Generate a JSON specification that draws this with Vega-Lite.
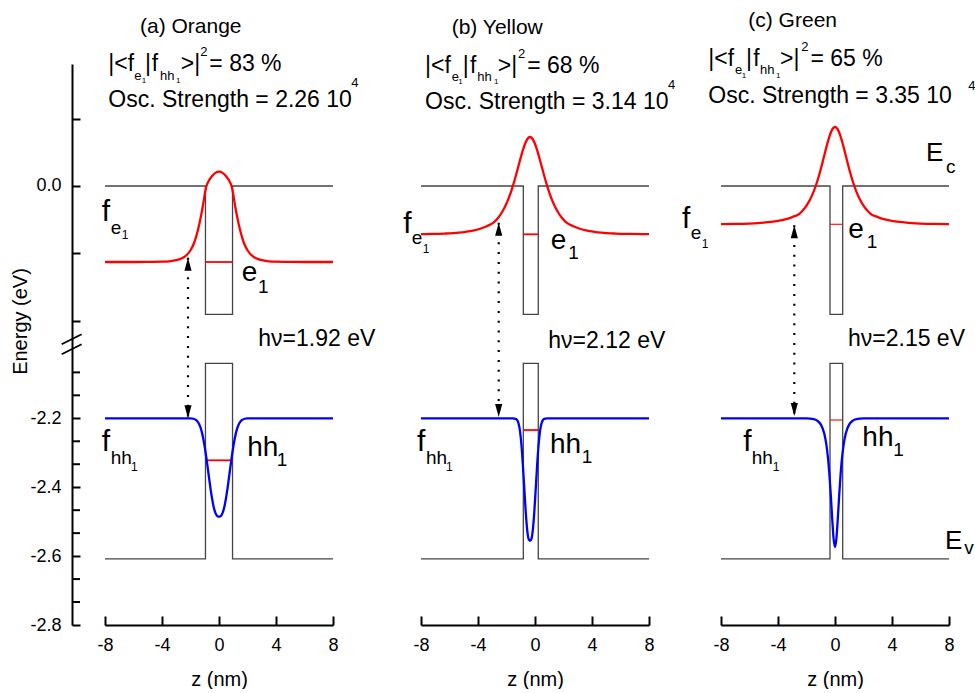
{
  "$schema": "https://vega.github.io/schema/vega-lite/v6.json",
  "background": "white",
  "padding": {"left": 10, "top": 9, "right": 0, "bottom": 0},
  "config": {
    "view": {"stroke": null},
    "font": "Liberation Sans",
    "axis": {"grid": false, "domainColor": "black", "tickColor": "black", "labelColor": "black", "titleColor": "black", "labelFont": "Liberation Sans", "titleFont": "Liberation Sans", "labelFontSize": 18, "titleFontSize": 20, "titleFontWeight": "normal", "domainWidth": 2, "tickWidth": 2, "labelFlush": false, "labelOverlap": false}
  },
  "datasets": {
    "bands": [
      {"panel": "a", "band": "cb", "i": 0, "z": -8, "E": 0}, {"panel": "a", "band": "cb", "i": 1, "z": -0.95, "E": 0}, {"panel": "a", "band": "cb", "i": 2, "z": -0.95, "E": -0.3807}, {"panel": "a", "band": "cb", "i": 3, "z": 0.95, "E": -0.3807}, {"panel": "a", "band": "cb", "i": 4, "z": 0.95, "E": 0}, {"panel": "a", "band": "cb", "i": 5, "z": 8, "E": 0},
      {"panel": "a", "band": "vb", "i": 0, "z": -8, "E": -2.608}, {"panel": "a", "band": "vb", "i": 1, "z": -0.95, "E": -2.608}, {"panel": "a", "band": "vb", "i": 2, "z": -0.95, "E": -2.0403}, {"panel": "a", "band": "vb", "i": 3, "z": 0.95, "E": -2.0403}, {"panel": "a", "band": "vb", "i": 4, "z": 0.95, "E": -2.608}, {"panel": "a", "band": "vb", "i": 5, "z": 8, "E": -2.608},
      {"panel": "b", "band": "cb", "i": 0, "z": -8, "E": 0}, {"panel": "b", "band": "cb", "i": 1, "z": -0.82, "E": 0}, {"panel": "b", "band": "cb", "i": 2, "z": -0.82, "E": -0.3807}, {"panel": "b", "band": "cb", "i": 3, "z": 0.23, "E": -0.3807}, {"panel": "b", "band": "cb", "i": 4, "z": 0.23, "E": 0}, {"panel": "b", "band": "cb", "i": 5, "z": 8, "E": 0},
      {"panel": "b", "band": "vb", "i": 0, "z": -8, "E": -2.608}, {"panel": "b", "band": "vb", "i": 1, "z": -0.82, "E": -2.608}, {"panel": "b", "band": "vb", "i": 2, "z": -0.82, "E": -2.0403}, {"panel": "b", "band": "vb", "i": 3, "z": 0.23, "E": -2.0403}, {"panel": "b", "band": "vb", "i": 4, "z": 0.23, "E": -2.608}, {"panel": "b", "band": "vb", "i": 5, "z": 8, "E": -2.608},
      {"panel": "c", "band": "cb", "i": 0, "z": -8, "E": 0}, {"panel": "c", "band": "cb", "i": 1, "z": -0.35, "E": 0}, {"panel": "c", "band": "cb", "i": 2, "z": -0.35, "E": -0.3807}, {"panel": "c", "band": "cb", "i": 3, "z": 0.54, "E": -0.3807}, {"panel": "c", "band": "cb", "i": 4, "z": 0.54, "E": 0}, {"panel": "c", "band": "cb", "i": 5, "z": 8, "E": 0},
      {"panel": "c", "band": "vb", "i": 0, "z": -8, "E": -2.608}, {"panel": "c", "band": "vb", "i": 1, "z": -0.35, "E": -2.608}, {"panel": "c", "band": "vb", "i": 2, "z": -0.35, "E": -2.0403}, {"panel": "c", "band": "vb", "i": 3, "z": 0.54, "E": -2.0403}, {"panel": "c", "band": "vb", "i": 4, "z": 0.54, "E": -2.608}, {"panel": "c", "band": "vb", "i": 5, "z": 8, "E": -2.608}
    ],
    "levels": [
      {"panel": "a", "level": "e1", "z1": -0.95, "z2": 0.95, "E": -0.2255}, {"panel": "a", "level": "hh1", "z1": -0.95, "z2": 0.95, "E": -2.3219},
      {"panel": "b", "level": "e1", "z1": -0.82, "z2": 0.23, "E": -0.1433}, {"panel": "b", "level": "hh1", "z1": -0.82, "z2": 0.23, "E": -2.234},
      {"panel": "c", "level": "e1", "z1": -0.35, "z2": 0.54, "E": -0.1136}, {"panel": "c", "level": "hh1", "z1": -0.35, "z2": 0.54, "E": -2.2049}
    ],
    "curves": [
      {"panel": "a", "state": "e1", "z": -8, "E": -0.2255}, {"panel": "a", "state": "e1", "z": -6, "E": -0.2255}, {"panel": "a", "state": "e1", "z": -5, "E": -0.2253}, {"panel": "a", "state": "e1", "z": -4, "E": -0.2247}, {"panel": "a", "state": "e1", "z": -3.5, "E": -0.2234}, {"panel": "a", "state": "e1", "z": -3, "E": -0.2201}, {"panel": "a", "state": "e1", "z": -2.75, "E": -0.2169}, {"panel": "a", "state": "e1", "z": -2.5, "E": -0.2121}, {"panel": "a", "state": "e1", "z": -2.25, "E": -0.2041}, {"panel": "a", "state": "e1", "z": -2, "E": -0.1907}, {"panel": "a", "state": "e1", "z": -1.75, "E": -0.1692}, {"panel": "a", "state": "e1", "z": -1.5, "E": -0.1344}, {"panel": "a", "state": "e1", "z": -1.25, "E": -0.0861}, {"panel": "a", "state": "e1", "z": -1.1, "E": -0.0513}, {"panel": "a", "state": "e1", "z": -1, "E": -0.0245}, {"panel": "a", "state": "e1", "z": -0.9, "E": -0.0031}, {"panel": "a", "state": "e1", "z": -0.75, "E": 0.013}, {"panel": "a", "state": "e1", "z": -0.5, "E": 0.0288}, {"panel": "a", "state": "e1", "z": -0.25, "E": 0.039}, {"panel": "a", "state": "e1", "z": 0, "E": 0.0424}, {"panel": "a", "state": "e1", "z": 0.25, "E": 0.039}, {"panel": "a", "state": "e1", "z": 0.5, "E": 0.0288}, {"panel": "a", "state": "e1", "z": 0.75, "E": 0.013}, {"panel": "a", "state": "e1", "z": 0.9, "E": -0.0031}, {"panel": "a", "state": "e1", "z": 1, "E": -0.0245}, {"panel": "a", "state": "e1", "z": 1.1, "E": -0.0513}, {"panel": "a", "state": "e1", "z": 1.25, "E": -0.0861}, {"panel": "a", "state": "e1", "z": 1.5, "E": -0.1344}, {"panel": "a", "state": "e1", "z": 1.75, "E": -0.1692}, {"panel": "a", "state": "e1", "z": 2, "E": -0.1907}, {"panel": "a", "state": "e1", "z": 2.25, "E": -0.2041}, {"panel": "a", "state": "e1", "z": 2.5, "E": -0.2121}, {"panel": "a", "state": "e1", "z": 2.75, "E": -0.2169}, {"panel": "a", "state": "e1", "z": 3, "E": -0.2201}, {"panel": "a", "state": "e1", "z": 3.5, "E": -0.2234}, {"panel": "a", "state": "e1", "z": 4, "E": -0.2247}, {"panel": "a", "state": "e1", "z": 5, "E": -0.2253}, {"panel": "a", "state": "e1", "z": 6, "E": -0.2255}, {"panel": "a", "state": "e1", "z": 8, "E": -0.2255},
      {"panel": "a", "state": "hh1", "z": -8, "E": -2.2}, {"panel": "a", "state": "hh1", "z": -4, "E": -2.2}, {"panel": "a", "state": "hh1", "z": -3, "E": -2.2}, {"panel": "a", "state": "hh1", "z": -2.5, "E": -2.2}, {"panel": "a", "state": "hh1", "z": -2, "E": -2.2003}, {"panel": "a", "state": "hh1", "z": -1.8, "E": -2.2013}, {"panel": "a", "state": "hh1", "z": -1.6, "E": -2.2053}, {"panel": "a", "state": "hh1", "z": -1.5, "E": -2.2096}, {"panel": "a", "state": "hh1", "z": -1.4, "E": -2.2164}, {"panel": "a", "state": "hh1", "z": -1.3, "E": -2.2266}, {"panel": "a", "state": "hh1", "z": -1.2, "E": -2.2408}, {"panel": "a", "state": "hh1", "z": -1.1, "E": -2.26}, {"panel": "a", "state": "hh1", "z": -1, "E": -2.2834}, {"panel": "a", "state": "hh1", "z": -0.9, "E": -2.3108}, {"panel": "a", "state": "hh1", "z": -0.8, "E": -2.3411}, {"panel": "a", "state": "hh1", "z": -0.7, "E": -2.3722}, {"panel": "a", "state": "hh1", "z": -0.6, "E": -2.4025}, {"panel": "a", "state": "hh1", "z": -0.5, "E": -2.4296}, {"panel": "a", "state": "hh1", "z": -0.4, "E": -2.4522}, {"panel": "a", "state": "hh1", "z": -0.3, "E": -2.4688}, {"panel": "a", "state": "hh1", "z": -0.2, "E": -2.4793}, {"panel": "a", "state": "hh1", "z": -0.1, "E": -2.4845}, {"panel": "a", "state": "hh1", "z": 0, "E": -2.4856}, {"panel": "a", "state": "hh1", "z": 0.1, "E": -2.4845}, {"panel": "a", "state": "hh1", "z": 0.2, "E": -2.4793}, {"panel": "a", "state": "hh1", "z": 0.3, "E": -2.4688}, {"panel": "a", "state": "hh1", "z": 0.4, "E": -2.4522}, {"panel": "a", "state": "hh1", "z": 0.5, "E": -2.4296}, {"panel": "a", "state": "hh1", "z": 0.6, "E": -2.4025}, {"panel": "a", "state": "hh1", "z": 0.7, "E": -2.3722}, {"panel": "a", "state": "hh1", "z": 0.8, "E": -2.3411}, {"panel": "a", "state": "hh1", "z": 0.9, "E": -2.3108}, {"panel": "a", "state": "hh1", "z": 1, "E": -2.2834}, {"panel": "a", "state": "hh1", "z": 1.1, "E": -2.26}, {"panel": "a", "state": "hh1", "z": 1.2, "E": -2.2408}, {"panel": "a", "state": "hh1", "z": 1.3, "E": -2.2266}, {"panel": "a", "state": "hh1", "z": 1.4, "E": -2.2164}, {"panel": "a", "state": "hh1", "z": 1.5, "E": -2.2096}, {"panel": "a", "state": "hh1", "z": 1.6, "E": -2.2053}, {"panel": "a", "state": "hh1", "z": 1.8, "E": -2.2013}, {"panel": "a", "state": "hh1", "z": 2, "E": -2.2003}, {"panel": "a", "state": "hh1", "z": 2.5, "E": -2.2}, {"panel": "a", "state": "hh1", "z": 3, "E": -2.2}, {"panel": "a", "state": "hh1", "z": 4, "E": -2.2}, {"panel": "a", "state": "hh1", "z": 8, "E": -2.2},
      {"panel": "b", "state": "e1", "z": -8, "E": -0.1427}, {"panel": "b", "state": "e1", "z": -7.35, "E": -0.1423}, {"panel": "b", "state": "e1", "z": -6.35, "E": -0.1411}, {"panel": "b", "state": "e1", "z": -5.35, "E": -0.1384}, {"panel": "b", "state": "e1", "z": -4.85, "E": -0.1358}, {"panel": "b", "state": "e1", "z": -4.35, "E": -0.1323}, {"panel": "b", "state": "e1", "z": -3.85, "E": -0.1268}, {"panel": "b", "state": "e1", "z": -3.35, "E": -0.1188}, {"panel": "b", "state": "e1", "z": -2.85, "E": -0.1066}, {"panel": "b", "state": "e1", "z": -2.6, "E": -0.0951}, {"panel": "b", "state": "e1", "z": -2.35, "E": -0.0801}, {"panel": "b", "state": "e1", "z": -2.1, "E": -0.0607}, {"panel": "b", "state": "e1", "z": -1.85, "E": -0.0365}, {"panel": "b", "state": "e1", "z": -1.6, "E": -0.0062}, {"panel": "b", "state": "e1", "z": -1.35, "E": 0.0296}, {"panel": "b", "state": "e1", "z": -1.1, "E": 0.0689}, {"panel": "b", "state": "e1", "z": -0.85, "E": 0.1067}, {"panel": "b", "state": "e1", "z": -0.6, "E": 0.1347}, {"panel": "b", "state": "e1", "z": -0.35, "E": 0.1454}, {"panel": "b", "state": "e1", "z": -0.1, "E": 0.1347}, {"panel": "b", "state": "e1", "z": 0.15, "E": 0.1067}, {"panel": "b", "state": "e1", "z": 0.4, "E": 0.0689}, {"panel": "b", "state": "e1", "z": 0.65, "E": 0.0296}, {"panel": "b", "state": "e1", "z": 0.9, "E": -0.0062}, {"panel": "b", "state": "e1", "z": 1.15, "E": -0.0365}, {"panel": "b", "state": "e1", "z": 1.4, "E": -0.0607}, {"panel": "b", "state": "e1", "z": 1.65, "E": -0.0801}, {"panel": "b", "state": "e1", "z": 1.9, "E": -0.0951}, {"panel": "b", "state": "e1", "z": 2.15, "E": -0.1066}, {"panel": "b", "state": "e1", "z": 2.65, "E": -0.1188}, {"panel": "b", "state": "e1", "z": 3.15, "E": -0.1268}, {"panel": "b", "state": "e1", "z": 3.65, "E": -0.1323}, {"panel": "b", "state": "e1", "z": 4.15, "E": -0.1358}, {"panel": "b", "state": "e1", "z": 4.65, "E": -0.1384}, {"panel": "b", "state": "e1", "z": 5.65, "E": -0.1411}, {"panel": "b", "state": "e1", "z": 6.65, "E": -0.1423}, {"panel": "b", "state": "e1", "z": 8, "E": -0.1429},
      {"panel": "b", "state": "hh1", "z": -8, "E": -2.2}, {"panel": "b", "state": "hh1", "z": -4, "E": -2.2}, {"panel": "b", "state": "hh1", "z": -2.35, "E": -2.2}, {"panel": "b", "state": "hh1", "z": -1.55, "E": -2.2}, {"panel": "b", "state": "hh1", "z": -1.35, "E": -2.2015}, {"panel": "b", "state": "hh1", "z": -1.25, "E": -2.2054}, {"panel": "b", "state": "hh1", "z": -1.15, "E": -2.2157}, {"panel": "b", "state": "hh1", "z": -1.05, "E": -2.2381}, {"panel": "b", "state": "hh1", "z": -0.95, "E": -2.278}, {"panel": "b", "state": "hh1", "z": -0.85, "E": -2.336}, {"panel": "b", "state": "hh1", "z": -0.75, "E": -2.4051}, {"panel": "b", "state": "hh1", "z": -0.65, "E": -2.4723}, {"panel": "b", "state": "hh1", "z": -0.55, "E": -2.5229}, {"panel": "b", "state": "hh1", "z": -0.45, "E": -2.55}, {"panel": "b", "state": "hh1", "z": -0.35, "E": -2.556}, {"panel": "b", "state": "hh1", "z": -0.25, "E": -2.55}, {"panel": "b", "state": "hh1", "z": -0.15, "E": -2.5229}, {"panel": "b", "state": "hh1", "z": -0.05, "E": -2.4723}, {"panel": "b", "state": "hh1", "z": 0.05, "E": -2.4051}, {"panel": "b", "state": "hh1", "z": 0.15, "E": -2.336}, {"panel": "b", "state": "hh1", "z": 0.25, "E": -2.278}, {"panel": "b", "state": "hh1", "z": 0.35, "E": -2.2381}, {"panel": "b", "state": "hh1", "z": 0.45, "E": -2.2157}, {"panel": "b", "state": "hh1", "z": 0.55, "E": -2.2054}, {"panel": "b", "state": "hh1", "z": 0.65, "E": -2.2015}, {"panel": "b", "state": "hh1", "z": 0.85, "E": -2.2}, {"panel": "b", "state": "hh1", "z": 1.65, "E": -2.2}, {"panel": "b", "state": "hh1", "z": 4, "E": -2.2}, {"panel": "b", "state": "hh1", "z": 8, "E": -2.2},
      {"panel": "c", "state": "e1", "z": -8, "E": -0.1131}, {"panel": "c", "state": "e1", "z": -7, "E": -0.1126}, {"panel": "c", "state": "e1", "z": -6, "E": -0.1114}, {"panel": "c", "state": "e1", "z": -5, "E": -0.1089}, {"panel": "c", "state": "e1", "z": -4.5, "E": -0.1067}, {"panel": "c", "state": "e1", "z": -4, "E": -0.1036}, {"panel": "c", "state": "e1", "z": -3.5, "E": -0.099}, {"panel": "c", "state": "e1", "z": -3, "E": -0.0922}, {"panel": "c", "state": "e1", "z": -2.5, "E": -0.0827}, {"panel": "c", "state": "e1", "z": -2.25, "E": -0.0723}, {"panel": "c", "state": "e1", "z": -2, "E": -0.0585}, {"panel": "c", "state": "e1", "z": -1.75, "E": -0.0403}, {"panel": "c", "state": "e1", "z": -1.5, "E": -0.0166}, {"panel": "c", "state": "e1", "z": -1.25, "E": 0.0134}, {"panel": "c", "state": "e1", "z": -1, "E": 0.0498}, {"panel": "c", "state": "e1", "z": -0.75, "E": 0.0911}, {"panel": "c", "state": "e1", "z": -0.5, "E": 0.1318}, {"panel": "c", "state": "e1", "z": -0.25, "E": 0.1633}, {"panel": "c", "state": "e1", "z": 0, "E": 0.1751}, {"panel": "c", "state": "e1", "z": 0.25, "E": 0.1633}, {"panel": "c", "state": "e1", "z": 0.5, "E": 0.1318}, {"panel": "c", "state": "e1", "z": 0.75, "E": 0.0911}, {"panel": "c", "state": "e1", "z": 1, "E": 0.0498}, {"panel": "c", "state": "e1", "z": 1.25, "E": 0.0134}, {"panel": "c", "state": "e1", "z": 1.5, "E": -0.0166}, {"panel": "c", "state": "e1", "z": 1.75, "E": -0.0403}, {"panel": "c", "state": "e1", "z": 2, "E": -0.0585}, {"panel": "c", "state": "e1", "z": 2.25, "E": -0.0723}, {"panel": "c", "state": "e1", "z": 2.5, "E": -0.0827}, {"panel": "c", "state": "e1", "z": 3, "E": -0.0922}, {"panel": "c", "state": "e1", "z": 3.5, "E": -0.099}, {"panel": "c", "state": "e1", "z": 4, "E": -0.1036}, {"panel": "c", "state": "e1", "z": 4.5, "E": -0.1067}, {"panel": "c", "state": "e1", "z": 5, "E": -0.1089}, {"panel": "c", "state": "e1", "z": 6, "E": -0.1114}, {"panel": "c", "state": "e1", "z": 7, "E": -0.1126}, {"panel": "c", "state": "e1", "z": 8, "E": -0.1131},
      {"panel": "c", "state": "hh1", "z": -8, "E": -2.2}, {"panel": "c", "state": "hh1", "z": -4, "E": -2.2}, {"panel": "c", "state": "hh1", "z": -3, "E": -2.2}, {"panel": "c", "state": "hh1", "z": -2, "E": -2.2004}, {"panel": "c", "state": "hh1", "z": -1.5, "E": -2.2027}, {"panel": "c", "state": "hh1", "z": -1.25, "E": -2.2069}, {"panel": "c", "state": "hh1", "z": -1, "E": -2.2176}, {"panel": "c", "state": "hh1", "z": -0.75, "E": -2.2448}, {"panel": "c", "state": "hh1", "z": -0.6, "E": -2.2781}, {"panel": "c", "state": "hh1", "z": -0.5, "E": -2.3121}, {"panel": "c", "state": "hh1", "z": -0.4, "E": -2.3592}, {"panel": "c", "state": "hh1", "z": -0.3, "E": -2.4197}, {"panel": "c", "state": "hh1", "z": -0.2, "E": -2.4888}, {"panel": "c", "state": "hh1", "z": -0.1, "E": -2.5489}, {"panel": "c", "state": "hh1", "z": 0, "E": -2.5736}, {"panel": "c", "state": "hh1", "z": 0.1, "E": -2.5489}, {"panel": "c", "state": "hh1", "z": 0.2, "E": -2.4888}, {"panel": "c", "state": "hh1", "z": 0.3, "E": -2.4197}, {"panel": "c", "state": "hh1", "z": 0.4, "E": -2.3592}, {"panel": "c", "state": "hh1", "z": 0.5, "E": -2.3121}, {"panel": "c", "state": "hh1", "z": 0.6, "E": -2.2781}, {"panel": "c", "state": "hh1", "z": 0.75, "E": -2.2448}, {"panel": "c", "state": "hh1", "z": 1, "E": -2.2176}, {"panel": "c", "state": "hh1", "z": 1.25, "E": -2.2069}, {"panel": "c", "state": "hh1", "z": 1.5, "E": -2.2027}, {"panel": "c", "state": "hh1", "z": 2, "E": -2.2004}, {"panel": "c", "state": "hh1", "z": 3, "E": -2.2}, {"panel": "c", "state": "hh1", "z": 4, "E": -2.2}, {"panel": "c", "state": "hh1", "z": 8, "E": -2.2}
    ],
    "arrows": [
      {"panel": "a", "z": -2.175, "top": -0.2128, "bot": -2.2},
      {"panel": "b", "z": -2.547, "top": -0.1089, "bot": -2.1962},
      {"panel": "c", "z": -2.856, "top": -0.1166, "bot": -2.1933}
    ],
    "breaks": [
      {"panel": "a", "z1": -11.04, "z2": -9.64, "E1": -1.9852, "E2": -0.44},
      {"panel": "a", "z1": -11.04, "z2": -9.64, "E1": -2.0142, "E2": -1.9852}
    ],
    "minorticks": [
      {"panel": "a", "z1": -10.316, "z2": -9.754, "E": -2.0667}, {"panel": "a", "z1": -10.316, "z2": -9.754, "E": -2.1333},
      {"panel": "a", "z1": -10.316, "z2": -9.754, "E": -2.2667}, {"panel": "a", "z1": -10.316, "z2": -9.754, "E": -2.3333},
      {"panel": "a", "z1": -10.316, "z2": -9.754, "E": -2.4667}, {"panel": "a", "z1": -10.316, "z2": -9.754, "E": -2.5333},
      {"panel": "a", "z1": -10.316, "z2": -9.754, "E": -2.6667}, {"panel": "a", "z1": -10.316, "z2": -9.754, "E": -2.7333}
    ],
    "texts": [
      {"panel": "a", "role": "title", "z": -5.544, "E": 0.4549, "text": "(a) Orange"},
      {"panel": "a", "role": "formula", "z": -7.768, "E": 0.3412, "text": "|<f"},
      {"panel": "a", "role": "fsub", "z": -5.944, "E": 0.316, "text": "e"},
      {"panel": "a", "role": "fsubsub", "z": -5.425, "E": 0.3065, "text": "1"},
      {"panel": "a", "role": "formula", "z": -5.193, "E": 0.3412, "text": "|"},
      {"panel": "a", "role": "formula", "z": -4.723, "E": 0.3412, "text": "f"},
      {"panel": "a", "role": "fsub", "z": -4.14, "E": 0.316, "text": "hh"},
      {"panel": "a", "role": "fsubsub", "z": -3.018, "E": 0.3065, "text": "1"},
      {"panel": "a", "role": "formula", "z": -2.688, "E": 0.3412, "text": ">|"},
      {"panel": "a", "role": "fsub", "z": -1.32, "E": 0.3858, "text": "2"},
      {"panel": "a", "role": "formula", "z": -0.68, "E": 0.3412, "text": "= 83 %"},
      {"panel": "a", "role": "formula", "z": -7.768, "E": 0.2344, "text": "Osc. Strength = 2.26 10"},
      {"panel": "a", "role": "fsub", "z": 9.284, "E": 0.2938, "text": "4"},
      {"panel": "a", "role": "sym", "z": -8.232, "E": -0.1039, "text": "f"},
      {"panel": "a", "role": "symsub", "z": -7.6, "E": -0.1424, "text": "e"},
      {"panel": "a", "role": "idx", "z": -6.828, "E": -0.1573, "text": "1"},
      {"panel": "a", "role": "lvl", "z": 1.593, "E": -0.2819, "text": "e"},
      {"panel": "a", "role": "lvlidx", "z": 2.737, "E": -0.3166, "text": "1"},
      {"panel": "a", "role": "lvl", "z": 1.986, "E": -2.3094, "text": "hh"},
      {"panel": "a", "role": "lvlidx", "z": 4.049, "E": -2.3385, "text": "1"},
      {"panel": "a", "role": "formula", "z": 2.758, "E": -1.9901, "text": "hν=1.92 eV"},
      {"panel": "a", "role": "sym", "z": -8.232, "E": -2.2949, "text": "f"},
      {"panel": "a", "role": "symsub", "z": -7.6, "E": -2.3335, "text": "hh"},
      {"panel": "a", "role": "idx", "z": -6.175, "E": -2.353, "text": "1"},
      {"panel": "b", "role": "title", "z": -5.846, "E": 0.4501, "text": "(b) Yellow"},
      {"panel": "b", "role": "formula", "z": -7.719, "E": 0.3362, "text": "|<f"},
      {"panel": "b", "role": "fsub", "z": -5.846, "E": 0.311, "text": "e"},
      {"panel": "b", "role": "fsubsub", "z": -5.382, "E": 0.3015, "text": "1"},
      {"panel": "b", "role": "formula", "z": -5.074, "E": 0.3362, "text": "|"},
      {"panel": "b", "role": "formula", "z": -4.561, "E": 0.3362, "text": "f"},
      {"panel": "b", "role": "fsub", "z": -4.049, "E": 0.311, "text": "hh"},
      {"panel": "b", "role": "fsubsub", "z": -2.877, "E": 0.3015, "text": "1"},
      {"panel": "b", "role": "formula", "z": -2.618, "E": 0.3362, "text": ">|"},
      {"panel": "b", "role": "fsub", "z": -1.2, "E": 0.3807, "text": "2"},
      {"panel": "b", "role": "formula", "z": -0.55, "E": 0.3362, "text": "= 68 %"},
      {"panel": "b", "role": "formula", "z": -7.719, "E": 0.2276, "text": "Osc. Strength = 3.14 10"},
      {"panel": "b", "role": "fsub", "z": 9.333, "E": 0.2869, "text": "4"},
      {"panel": "b", "role": "sym", "z": -9.242, "E": -0.1386, "text": "f"},
      {"panel": "b", "role": "symsub", "z": -8.653, "E": -0.173, "text": "e"},
      {"panel": "b", "role": "idx", "z": -7.881, "E": -0.1979, "text": "1"},
      {"panel": "b", "role": "lvl", "z": 1.102, "E": -0.1878, "text": "e"},
      {"panel": "b", "role": "lvlidx", "z": 2.337, "E": -0.2175, "text": "1"},
      {"panel": "b", "role": "lvl", "z": 1.053, "E": -2.2999, "text": "hh"},
      {"panel": "b", "role": "lvlidx", "z": 3.277, "E": -2.3289, "text": "1"},
      {"panel": "b", "role": "formula", "z": 0.933, "E": -1.9951, "text": "hν=2.12 eV"},
      {"panel": "b", "role": "sym", "z": -8.281, "E": -2.2949, "text": "f"},
      {"panel": "b", "role": "symsub", "z": -7.649, "E": -2.3335, "text": "hh"},
      {"panel": "b", "role": "idx", "z": -6.246, "E": -2.353, "text": "1"},
      {"panel": "c", "role": "title", "z": -6.084, "E": 0.4718, "text": "(c) Green"},
      {"panel": "c", "role": "formula", "z": -8.891, "E": 0.3561, "text": "|<f"},
      {"panel": "c", "role": "fsub", "z": -7.018, "E": 0.3309, "text": "e"},
      {"panel": "c", "role": "fsubsub", "z": -6.547, "E": 0.3214, "text": "1"},
      {"panel": "c", "role": "formula", "z": -6.246, "E": 0.3561, "text": "|"},
      {"panel": "c", "role": "formula", "z": -5.733, "E": 0.3561, "text": "f"},
      {"panel": "c", "role": "fsub", "z": -5.263, "E": 0.3309, "text": "hh"},
      {"panel": "c", "role": "fsubsub", "z": -4.14, "E": 0.3214, "text": "1"},
      {"panel": "c", "role": "formula", "z": -3.86, "E": 0.3561, "text": ">|"},
      {"panel": "c", "role": "fsub", "z": -2.37, "E": 0.4006, "text": "2"},
      {"panel": "c", "role": "formula", "z": -1.72, "E": 0.3561, "text": "= 65 %"},
      {"panel": "c", "role": "formula", "z": -8.891, "E": 0.2472, "text": "Osc. Strength = 3.35 10"},
      {"panel": "c", "role": "fsub", "z": 9.354, "E": 0.284, "text": "4"},
      {"panel": "c", "role": "sym", "z": -10.737, "E": -0.1237, "text": "f"},
      {"panel": "c", "role": "symsub", "z": -10.126, "E": -0.1582, "text": "e"},
      {"panel": "c", "role": "idx", "z": -9.354, "E": -0.1831, "text": "1"},
      {"panel": "c", "role": "lvl", "z": 0.933, "E": -0.1534, "text": "e"},
      {"panel": "c", "role": "lvlidx", "z": 2.225, "E": -0.1831, "text": "1"},
      {"panel": "c", "role": "sym", "z": -6.435, "E": -2.2949, "text": "f"},
      {"panel": "c", "role": "symsub", "z": -5.846, "E": -2.3335, "text": "hh"},
      {"panel": "c", "role": "idx", "z": -4.372, "E": -2.353, "text": "1"},
      {"panel": "c", "role": "lvl", "z": 1.916, "E": -2.2804, "text": "hh"},
      {"panel": "c", "role": "lvlidx", "z": 4.091, "E": -2.3094, "text": "1"},
      {"panel": "c", "role": "band", "z": 6.386, "E": 0.0742, "text": "E"},
      {"panel": "c", "role": "bandsub", "z": 7.789, "E": 0.0395, "text": "c"},
      {"panel": "c", "role": "band", "z": 7.719, "E": -2.5803, "text": "E"},
      {"panel": "c", "role": "bandsub", "z": 9.074, "E": -2.5948, "text": "v"},
      {"panel": "c", "role": "formula", "z": 0.912, "E": -1.9901, "text": "hν=2.15 eV"}
    ]
  },
  "spacing": 72,
  "bounds": "flush",
  "hconcat": [
    {
      "width": 228, "height": 561,
      "layer": [
        {
          "data": {"name": "bands"}, "transform": [{"filter": "datum.panel === 'a'"}],
          "mark": {"type": "line", "color": "#444444", "strokeWidth": 1.3},
          "encoding": {
            "x": {"field": "z", "type": "quantitative", "scale": {"domain": [-8, 8], "nice": false, "zero": false},
                  "axis": {"title": "z (nm)", "values": [-8, -6, -4, -2, 0, 2, 4, 6, 8], "labelExpr": "datum.value % 4 === 0 ? replace(format(datum.value, 'd'), '\u2212', '-') : ''", "tickSize": {"condition": {"test": "datum.value % 4 === 0", "value": -9}, "value": -5}, "labelPadding": 20, "labelOverlap": false, "titleY": 60, "titleBaseline": "alphabetic"}},
            "y": {"field": "E", "type": "quantitative", "scale": {"domain": [-2.8, -1.9785, -0.4629, 0.362], "range": [561, 278, 278, 0], "nice": false, "zero": false},
                  "axis": {"title": "Energy (eV)", "offset": 33, "values": [0.2, 0, -0.2, -0.4, -2.2, -2.4, -2.6, -2.8], "labelExpr": "datum.value > 0.1 || (datum.value < -0.1 && datum.value > -1) ? '' : replace(format(datum.value, '.1f'), '\u2212', '-')", "tickSize": -8, "labelPadding": 19, "labelOverlap": false, "titleAngle": 270, "titleAlign": "center", "titleBaseline": "middle", "titleX": -52, "titleY": 257}},
            "detail": {"field": "band"},
            "order": {"field": "i"}
          }
        },
        {
          "data": {"name": "minorticks"}, "transform": [{"filter": "datum.panel === 'a'"}],
          "mark": {"type": "rule", "color": "black", "strokeWidth": 2},
          "encoding": {
            "x": {"field": "z1", "type": "quantitative", "scale": {"domain": [-8, 8], "nice": false, "zero": false}},
            "x2": {"field": "z2"},
            "y": {"field": "E", "type": "quantitative", "scale": {"domain": [-2.8, -1.9785, -0.4629, 0.362], "range": [561, 278, 278, 0], "nice": false, "zero": false}}
          }
        },
        {
          "data": {"name": "levels"}, "transform": [{"filter": "datum.panel === 'a'"}],
          "mark": {"type": "rule", "color": "#ff0000", "strokeWidth": 1.8},
          "encoding": {
            "x": {"field": "z1", "type": "quantitative", "scale": {"domain": [-8, 8], "nice": false, "zero": false}},
            "x2": {"field": "z2"},
            "y": {"field": "E", "type": "quantitative", "scale": {"domain": [-2.8, -1.9785, -0.4629, 0.362], "range": [561, 278, 278, 0], "nice": false, "zero": false}}
          }
        },
        {
          "data": {"name": "curves"}, "transform": [{"filter": "datum.panel === 'a'"}],
          "mark": {"type": "line", "interpolate": "monotone", "strokeWidth": 2.3},
          "encoding": {
            "x": {"field": "z", "type": "quantitative", "scale": {"domain": [-8, 8], "nice": false, "zero": false}},
            "y": {"field": "E", "type": "quantitative", "scale": {"domain": [-2.8, -1.9785, -0.4629, 0.362], "range": [561, 278, 278, 0], "nice": false, "zero": false}},
            "color": {"field": "state", "type": "nominal", "scale": {"domain": ["e1", "hh1"], "range": ["#ff0000", "#0000ff"]}, "legend": null}
          }
        },
        {
          "data": {"name": "arrows"}, "transform": [{"filter": "datum.panel === 'a'"}],
          "mark": {"type": "rule", "color": "black", "strokeWidth": 2.2, "strokeDash": [2, 7.8]},
          "encoding": {
            "x": {"field": "z", "type": "quantitative", "scale": {"domain": [-8, 8], "nice": false, "zero": false}},
            "y": {"field": "top", "type": "quantitative", "scale": {"domain": [-2.8, -1.9785, -0.4629, 0.362], "range": [561, 278, 278, 0], "nice": false, "zero": false}},
            "y2": {"field": "bot"}
          }
        },
        {
          "data": {"name": "arrows"}, "transform": [{"filter": "datum.panel === 'a'"}],
          "mark": {"type": "point", "shape": "M0,0L-0.55,2L0.55,2Z", "filled": true, "size": 170, "color": "black", "opacity": 1, "strokeWidth": 0},
          "encoding": {
            "x": {"field": "z", "type": "quantitative", "scale": {"domain": [-8, 8], "nice": false, "zero": false}},
            "y": {"field": "top", "type": "quantitative", "scale": {"domain": [-2.8, -1.9785, -0.4629, 0.362], "range": [561, 278, 278, 0], "nice": false, "zero": false}}
          }
        },
        {
          "data": {"name": "arrows"}, "transform": [{"filter": "datum.panel === 'a'"}],
          "mark": {"type": "point", "shape": "M0,0L-0.55,-2L0.55,-2Z", "filled": true, "size": 170, "color": "black", "opacity": 1, "strokeWidth": 0},
          "encoding": {
            "x": {"field": "z", "type": "quantitative", "scale": {"domain": [-8, 8], "nice": false, "zero": false}},
            "y": {"field": "bot", "type": "quantitative", "scale": {"domain": [-2.8, -1.9785, -0.4629, 0.362], "range": [561, 278, 278, 0], "nice": false, "zero": false}}
          }
        },
        {
          "data": {"name": "breaks"}, "transform": [{"filter": "datum.panel === 'a'"}],
          "mark": {"type": "rule", "color": "black", "strokeWidth": 1.8},
          "encoding": {
            "x": {"field": "z1", "type": "quantitative", "scale": {"domain": [-8, 8], "nice": false, "zero": false}},
            "x2": {"field": "z2"},
            "y": {"field": "E1", "type": "quantitative", "scale": {"domain": [-2.8, -1.9785, -0.4629, 0.362], "range": [561, 278, 278, 0], "nice": false, "zero": false}},
            "y2": {"field": "E2"}
          }
        },
        {
          "data": {"name": "texts"}, "transform": [{"filter": "datum.panel === 'a'"}],
          "mark": {"type": "text", "align": "left", "baseline": "alphabetic", "font": "Liberation Sans", "color": "black"},
          "encoding": {
            "x": {"field": "z", "type": "quantitative", "scale": {"domain": [-8, 8], "nice": false, "zero": false}},
            "y": {"field": "E", "type": "quantitative", "scale": {"domain": [-2.8, -1.9785, -0.4629, 0.362], "range": [561, 278, 278, 0], "nice": false, "zero": false}},
            "text": {"field": "text"},
            "size": {"field": "role", "type": "nominal", "scale": {"type": "ordinal", "domain": ["title", "formula", "fsub", "fsubsub", "sym", "symsub", "idx", "lvl", "lvlidx", "band", "bandsub"], "range": [21, 23, 13, 8, 30, 19, 12, 28, 19, 26, 19]}, "legend": null}
          }
        }
      ]
    },
    {
      "width": 244, "height": 561,
      "layer": [
        {
          "data": {"name": "bands"}, "transform": [{"filter": "datum.panel === 'b'"}],
          "mark": {"type": "line", "color": "#444444", "strokeWidth": 1.3},
          "encoding": {
            "x": {"field": "z", "type": "quantitative", "scale": {"domain": [-8, 8], "range": [16, 244], "nice": false, "zero": false},
                  "axis": {"title": "z (nm)", "values": [-8, -6, -4, -2, 0, 2, 4, 6, 8], "labelExpr": "datum.value % 4 === 0 ? replace(format(datum.value, 'd'), '\u2212', '-') : ''", "tickSize": {"condition": {"test": "datum.value % 4 === 0", "value": -9}, "value": -5}, "labelPadding": 20, "labelOverlap": false, "titleX": 130, "titleY": 60, "titleBaseline": "alphabetic"}},
            "y": {"field": "E", "type": "quantitative", "scale": {"domain": [-2.8, -1.9785, -0.4629, 0.362], "range": [561, 278, 278, 0], "nice": false, "zero": false}, "axis": null},
            "detail": {"field": "band"},
            "order": {"field": "i"}
          }
        },
        {
          "data": {"name": "levels"}, "transform": [{"filter": "datum.panel === 'b'"}],
          "mark": {"type": "rule", "color": "#ff0000", "strokeWidth": 1.8},
          "encoding": {
            "x": {"field": "z1", "type": "quantitative", "scale": {"domain": [-8, 8], "range": [16, 244], "nice": false, "zero": false}},
            "x2": {"field": "z2"},
            "y": {"field": "E", "type": "quantitative", "scale": {"domain": [-2.8, -1.9785, -0.4629, 0.362], "range": [561, 278, 278, 0], "nice": false, "zero": false}, "axis": null}
          }
        },
        {
          "data": {"name": "curves"}, "transform": [{"filter": "datum.panel === 'b'"}],
          "mark": {"type": "line", "interpolate": "monotone", "strokeWidth": 2.3},
          "encoding": {
            "x": {"field": "z", "type": "quantitative", "scale": {"domain": [-8, 8], "range": [16, 244], "nice": false, "zero": false}},
            "y": {"field": "E", "type": "quantitative", "scale": {"domain": [-2.8, -1.9785, -0.4629, 0.362], "range": [561, 278, 278, 0], "nice": false, "zero": false}, "axis": null},
            "color": {"field": "state", "type": "nominal", "scale": {"domain": ["e1", "hh1"], "range": ["#ff0000", "#0000ff"]}, "legend": null}
          }
        },
        {
          "data": {"name": "arrows"}, "transform": [{"filter": "datum.panel === 'b'"}],
          "mark": {"type": "rule", "color": "black", "strokeWidth": 2.2, "strokeDash": [2, 7.8]},
          "encoding": {
            "x": {"field": "z", "type": "quantitative", "scale": {"domain": [-8, 8], "range": [16, 244], "nice": false, "zero": false}},
            "y": {"field": "top", "type": "quantitative", "scale": {"domain": [-2.8, -1.9785, -0.4629, 0.362], "range": [561, 278, 278, 0], "nice": false, "zero": false}, "axis": null},
            "y2": {"field": "bot"}
          }
        },
        {
          "data": {"name": "arrows"}, "transform": [{"filter": "datum.panel === 'b'"}],
          "mark": {"type": "point", "shape": "M0,0L-0.55,2L0.55,2Z", "filled": true, "size": 170, "color": "black", "opacity": 1, "strokeWidth": 0},
          "encoding": {
            "x": {"field": "z", "type": "quantitative", "scale": {"domain": [-8, 8], "range": [16, 244], "nice": false, "zero": false}},
            "y": {"field": "top", "type": "quantitative", "scale": {"domain": [-2.8, -1.9785, -0.4629, 0.362], "range": [561, 278, 278, 0], "nice": false, "zero": false}, "axis": null}
          }
        },
        {
          "data": {"name": "arrows"}, "transform": [{"filter": "datum.panel === 'b'"}],
          "mark": {"type": "point", "shape": "M0,0L-0.55,-2L0.55,-2Z", "filled": true, "size": 170, "color": "black", "opacity": 1, "strokeWidth": 0},
          "encoding": {
            "x": {"field": "z", "type": "quantitative", "scale": {"domain": [-8, 8], "range": [16, 244], "nice": false, "zero": false}},
            "y": {"field": "bot", "type": "quantitative", "scale": {"domain": [-2.8, -1.9785, -0.4629, 0.362], "range": [561, 278, 278, 0], "nice": false, "zero": false}, "axis": null}
          }
        },
        {
          "data": {"name": "texts"}, "transform": [{"filter": "datum.panel === 'b'"}],
          "mark": {"type": "text", "align": "left", "baseline": "alphabetic", "font": "Liberation Sans", "color": "black"},
          "encoding": {
            "x": {"field": "z", "type": "quantitative", "scale": {"domain": [-8, 8], "range": [16, 244], "nice": false, "zero": false}},
            "y": {"field": "E", "type": "quantitative", "scale": {"domain": [-2.8, -1.9785, -0.4629, 0.362], "range": [561, 278, 278, 0], "nice": false, "zero": false}, "axis": null},
            "text": {"field": "text"},
            "size": {"field": "role", "type": "nominal", "scale": {"type": "ordinal", "domain": ["title", "formula", "fsub", "fsubsub", "sym", "symsub", "idx", "lvl", "lvlidx", "band", "bandsub"], "range": [21, 23, 13, 8, 30, 19, 12, 28, 19, 26, 19]}, "legend": null}
          }
        }
      ]
    },
    {
      "width": 228, "height": 561,
      "layer": [
        {
          "data": {"name": "bands"}, "transform": [{"filter": "datum.panel === 'c'"}],
          "mark": {"type": "line", "color": "#444444", "strokeWidth": 1.3},
          "encoding": {
            "x": {"field": "z", "type": "quantitative", "scale": {"domain": [-8, 8], "nice": false, "zero": false},
                  "axis": {"title": "z (nm)", "values": [-8, -6, -4, -2, 0, 2, 4, 6, 8], "labelExpr": "datum.value % 4 === 0 ? replace(format(datum.value, 'd'), '\u2212', '-') : ''", "tickSize": {"condition": {"test": "datum.value % 4 === 0", "value": -9}, "value": -5}, "labelPadding": 20, "labelOverlap": false, "titleY": 60, "titleBaseline": "alphabetic"}},
            "y": {"field": "E", "type": "quantitative", "scale": {"domain": [-2.8, -1.9785, -0.4629, 0.362], "range": [561, 278, 278, 0], "nice": false, "zero": false}, "axis": null},
            "detail": {"field": "band"},
            "order": {"field": "i"}
          }
        },
        {
          "data": {"name": "levels"}, "transform": [{"filter": "datum.panel === 'c'"}],
          "mark": {"type": "rule", "color": "#ff0000", "strokeWidth": 1.1},
          "encoding": {
            "x": {"field": "z1", "type": "quantitative", "scale": {"domain": [-8, 8], "nice": false, "zero": false}},
            "x2": {"field": "z2"},
            "y": {"field": "E", "type": "quantitative", "scale": {"domain": [-2.8, -1.9785, -0.4629, 0.362], "range": [561, 278, 278, 0], "nice": false, "zero": false}, "axis": null}
          }
        },
        {
          "data": {"name": "curves"}, "transform": [{"filter": "datum.panel === 'c'"}],
          "mark": {"type": "line", "interpolate": "monotone", "strokeWidth": 2.3},
          "encoding": {
            "x": {"field": "z", "type": "quantitative", "scale": {"domain": [-8, 8], "nice": false, "zero": false}},
            "y": {"field": "E", "type": "quantitative", "scale": {"domain": [-2.8, -1.9785, -0.4629, 0.362], "range": [561, 278, 278, 0], "nice": false, "zero": false}, "axis": null},
            "color": {"field": "state", "type": "nominal", "scale": {"domain": ["e1", "hh1"], "range": ["#ff0000", "#0000ff"]}, "legend": null}
          }
        },
        {
          "data": {"name": "arrows"}, "transform": [{"filter": "datum.panel === 'c'"}],
          "mark": {"type": "rule", "color": "black", "strokeWidth": 2.2, "strokeDash": [2, 7.8]},
          "encoding": {
            "x": {"field": "z", "type": "quantitative", "scale": {"domain": [-8, 8], "nice": false, "zero": false}},
            "y": {"field": "top", "type": "quantitative", "scale": {"domain": [-2.8, -1.9785, -0.4629, 0.362], "range": [561, 278, 278, 0], "nice": false, "zero": false}, "axis": null},
            "y2": {"field": "bot"}
          }
        },
        {
          "data": {"name": "arrows"}, "transform": [{"filter": "datum.panel === 'c'"}],
          "mark": {"type": "point", "shape": "M0,0L-0.55,2L0.55,2Z", "filled": true, "size": 170, "color": "black", "opacity": 1, "strokeWidth": 0},
          "encoding": {
            "x": {"field": "z", "type": "quantitative", "scale": {"domain": [-8, 8], "nice": false, "zero": false}},
            "y": {"field": "top", "type": "quantitative", "scale": {"domain": [-2.8, -1.9785, -0.4629, 0.362], "range": [561, 278, 278, 0], "nice": false, "zero": false}, "axis": null}
          }
        },
        {
          "data": {"name": "arrows"}, "transform": [{"filter": "datum.panel === 'c'"}],
          "mark": {"type": "point", "shape": "M0,0L-0.55,-2L0.55,-2Z", "filled": true, "size": 170, "color": "black", "opacity": 1, "strokeWidth": 0},
          "encoding": {
            "x": {"field": "z", "type": "quantitative", "scale": {"domain": [-8, 8], "nice": false, "zero": false}},
            "y": {"field": "bot", "type": "quantitative", "scale": {"domain": [-2.8, -1.9785, -0.4629, 0.362], "range": [561, 278, 278, 0], "nice": false, "zero": false}, "axis": null}
          }
        },
        {
          "data": {"name": "texts"}, "transform": [{"filter": "datum.panel === 'c'"}],
          "mark": {"type": "text", "align": "left", "baseline": "alphabetic", "font": "Liberation Sans", "color": "black"},
          "encoding": {
            "x": {"field": "z", "type": "quantitative", "scale": {"domain": [-8, 8], "nice": false, "zero": false}},
            "y": {"field": "E", "type": "quantitative", "scale": {"domain": [-2.8, -1.9785, -0.4629, 0.362], "range": [561, 278, 278, 0], "nice": false, "zero": false}, "axis": null},
            "text": {"field": "text"},
            "size": {"field": "role", "type": "nominal", "scale": {"type": "ordinal", "domain": ["title", "formula", "fsub", "fsubsub", "sym", "symsub", "idx", "lvl", "lvlidx", "band", "bandsub"], "range": [21, 23, 13, 8, 30, 19, 12, 28, 19, 26, 19]}, "legend": null}
          }
        }
      ]
    }
  ]
}
